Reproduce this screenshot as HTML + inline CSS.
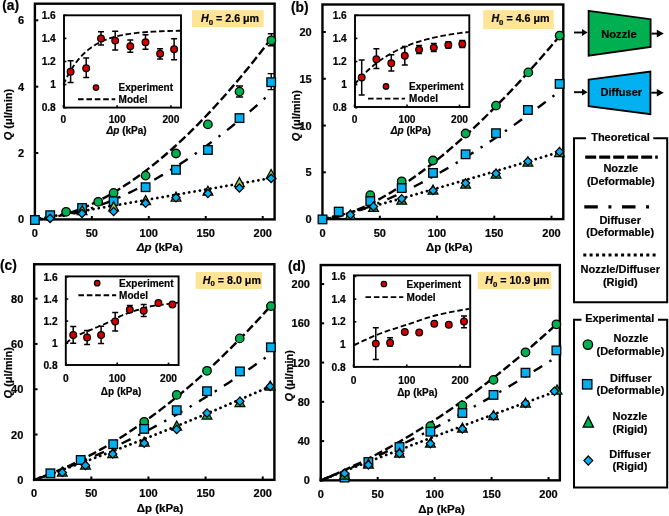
<!DOCTYPE html>
<html><head><meta charset="utf-8"><style>
html,body{margin:0;padding:0;background:#fff;}
svg{display:block;will-change:transform;}
text{font-family:"Liberation Sans", sans-serif;fill:#000;stroke:#000;stroke-width:0.2px;}
</style></head><body>
<svg width="669" height="516" viewBox="0 0 669 516" font-family="Liberation Sans, sans-serif">
<rect x="0" y="0" width="669" height="516" fill="#fff"/>
<rect x="192" y="10.2" width="71.69999999999999" height="16.900000000000002" fill="#ffe495"/>
<text x="201" y="22.3" font-size="10.7" font-weight="bold"><tspan font-style="italic">H</tspan><tspan font-size="7.8" dy="2.3">0</tspan><tspan dy="-2.3"> = 2.6 μm</tspan></text>
<rect x="34.9" y="3.7" width="239.70000000000002" height="215.70000000000002" fill="none" stroke="#000" stroke-width="2.4"/>
<line x1="34.9" y1="219.40" x2="38.30" y2="219.40" stroke="#000" stroke-width="2"/>
<text x="24.10" y="223.35" font-size="11" font-weight="bold" text-anchor="end" >0</text>
<line x1="34.9" y1="153.04" x2="38.30" y2="153.04" stroke="#000" stroke-width="2"/>
<text x="24.10" y="156.99" font-size="11" font-weight="bold" text-anchor="end" >2</text>
<line x1="34.9" y1="86.68" x2="38.30" y2="86.68" stroke="#000" stroke-width="2"/>
<text x="24.10" y="90.63" font-size="11" font-weight="bold" text-anchor="end" >4</text>
<line x1="34.9" y1="20.32" x2="38.30" y2="20.32" stroke="#000" stroke-width="2"/>
<text x="24.10" y="24.27" font-size="11" font-weight="bold" text-anchor="end" >6</text>
<line x1="34.90" y1="219.4" x2="34.90" y2="216.00" stroke="#000" stroke-width="2"/>
<text x="34.90" y="237.30" font-size="11" font-weight="bold" text-anchor="middle" >0</text>
<line x1="91.85" y1="219.4" x2="91.85" y2="216.00" stroke="#000" stroke-width="2"/>
<text x="91.85" y="237.30" font-size="11" font-weight="bold" text-anchor="middle" >50</text>
<line x1="148.80" y1="219.4" x2="148.80" y2="216.00" stroke="#000" stroke-width="2"/>
<text x="148.80" y="237.30" font-size="11" font-weight="bold" text-anchor="middle" >100</text>
<line x1="205.75" y1="219.4" x2="205.75" y2="216.00" stroke="#000" stroke-width="2"/>
<text x="205.75" y="237.30" font-size="11" font-weight="bold" text-anchor="middle" >150</text>
<line x1="262.70" y1="219.4" x2="262.70" y2="216.00" stroke="#000" stroke-width="2"/>
<text x="262.70" y="237.30" font-size="11" font-weight="bold" text-anchor="middle" >200</text>
<path d="M34.90,219.40 L37.85,219.31 L40.79,219.10 L43.74,218.79 L46.69,218.40 L49.64,217.93 L52.58,217.39 L55.53,216.77 L58.48,216.08 L61.42,215.33 L64.37,214.51 L67.32,213.63 L70.27,212.69 L73.21,211.70 L76.16,210.64 L79.11,209.52 L82.05,208.35 L85.00,207.13 L87.95,205.85 L90.90,204.52 L93.84,203.13 L96.79,201.69 L99.74,200.21 L102.68,198.67 L105.63,197.08 L108.58,195.44 L111.53,193.75 L114.47,192.02 L117.42,190.23 L120.37,188.40 L123.31,186.52 L126.26,184.60 L129.21,182.63 L132.16,180.61 L135.10,178.55 L138.05,176.44 L141.00,174.29 L143.95,172.10 L146.89,169.86 L149.84,167.57 L152.79,165.25 L155.73,162.87 L158.68,160.46 L161.63,158.01 L164.58,155.51 L167.52,152.97 L170.47,150.38 L173.42,147.76 L176.36,145.10 L179.31,142.39 L182.26,139.64 L185.21,136.85 L188.15,134.03 L191.10,131.16 L194.05,128.25 L196.99,125.30 L199.94,122.31 L202.89,119.28 L205.84,116.22 L208.78,113.11 L211.73,109.97 L214.68,106.78 L217.62,103.56 L220.57,100.30 L223.52,97.00 L226.47,93.66 L229.41,90.29 L232.36,86.87 L235.31,83.42 L238.25,79.94 L241.20,76.41 L244.15,72.85 L247.10,69.25 L250.04,65.61 L252.99,61.94 L255.94,58.23 L258.88,54.48 L261.83,50.70 L264.78,46.88 L267.73,43.02 L270.67,39.13" fill="none" stroke="#000" stroke-width="2.4" stroke-dasharray="8.5 3.4" stroke-dashoffset="0.00" stroke-linecap="butt"/>
<path d="M34.90,219.40 L37.78,219.33 L40.67,219.17 L43.55,218.94 L46.43,218.65 L49.32,218.31 L52.20,217.91 L55.08,217.47 L57.96,216.97 L60.85,216.43 L63.73,215.85 L66.61,215.23 L69.50,214.56 L72.38,213.86 L75.26,213.11 L78.15,212.33 L81.03,211.51 L83.91,210.65 L86.80,209.76 L89.68,208.83 L92.56,207.87 L95.44,206.88 L98.33,205.84 L101.21,204.78 L104.09,203.68 L106.98,202.55 L109.86,201.39 L112.74,200.20 L115.63,198.97 L118.51,197.72 L121.39,196.43 L124.28,195.12 L127.16,193.77 L130.04,192.39 L132.93,190.99 L135.81,189.55 L138.69,188.09 L141.57,186.59 L144.46,185.07 L147.34,183.52 L150.22,181.95 L153.11,180.34 L155.99,178.71 L158.87,177.05 L161.76,175.36 L164.64,173.64 L167.52,171.90 L170.41,170.13 L173.29,168.34 L176.17,166.52 L179.05,164.67 L181.94,162.79 L184.82,160.89 L187.70,158.97 L190.59,157.02 L193.47,155.04 L196.35,153.04 L199.24,151.01 L202.12,148.96 L205.00,146.88 L207.89,144.78 L210.77,142.65 L213.65,140.50 L216.53,138.33 L219.42,136.13 L222.30,133.90 L225.18,131.65 L228.07,129.38 L230.95,127.09 L233.83,124.77 L236.72,122.42 L239.60,120.06 L242.48,117.67 L245.37,115.25 L248.25,112.82 L251.13,110.36 L254.02,107.87 L256.90,105.37 L259.78,102.84 L262.66,100.29 L265.55,97.71" fill="none" stroke="#000" stroke-width="2.4" stroke-dasharray="10 8.5 2.4 8.5" stroke-dashoffset="20.06" stroke-linecap="butt"/>
<path d="M34.90,219.40 L37.85,218.88 L40.79,218.37 L43.74,217.85 L46.69,217.34 L49.64,216.82 L52.58,216.31 L55.53,215.79 L58.48,215.28 L61.42,214.76 L64.37,214.25 L67.32,213.73 L70.27,213.22 L73.21,212.70 L76.16,212.19 L79.11,211.67 L82.05,211.16 L85.00,210.64 L87.95,210.13 L90.90,209.61 L93.84,209.10 L96.79,208.58 L99.74,208.07 L102.68,207.55 L105.63,207.04 L108.58,206.52 L111.53,206.01 L114.47,205.49 L117.42,204.98 L120.37,204.46 L123.31,203.95 L126.26,203.43 L129.21,202.92 L132.16,202.40 L135.10,201.89 L138.05,201.37 L141.00,200.86 L143.95,200.34 L146.89,199.83 L149.84,199.31 L152.79,198.80 L155.73,198.28 L158.68,197.76 L161.63,197.25 L164.58,196.73 L167.52,196.22 L170.47,195.70 L173.42,195.19 L176.36,194.67 L179.31,194.16 L182.26,193.64 L185.21,193.13 L188.15,192.61 L191.10,192.10 L194.05,191.58 L196.99,191.07 L199.94,190.55 L202.89,190.04 L205.84,189.52 L208.78,189.01 L211.73,188.49 L214.68,187.98 L217.62,187.46 L220.57,186.95 L223.52,186.43 L226.47,185.92 L229.41,185.40 L232.36,184.89 L235.31,184.37 L238.25,183.86 L241.20,183.34 L244.15,182.83 L247.10,182.31 L250.04,181.80 L252.99,181.28 L255.94,180.77 L258.88,180.25 L261.83,179.74 L264.78,179.22 L267.73,178.71 L270.67,178.19" fill="none" stroke="#000" stroke-width="2.75" stroke-dasharray="0.1 5.3" stroke-dashoffset="0.00" stroke-linecap="round"/>
<path d="M239.50,86.00 L239.50,97.00 M235.90,86.00 L243.10,86.00 M235.90,97.00 L243.10,97.00" stroke="#000" stroke-width="1.4" fill="none"/>
<path d="M271.40,33.80 L271.40,45.80 M267.80,33.80 L275.00,33.80 M267.80,45.80 L275.00,45.80" stroke="#000" stroke-width="1.4" fill="none"/>
<path d="M271.20,73.60 L271.20,89.60 M267.60,73.60 L274.80,73.60 M267.60,89.60 L274.80,89.60" stroke="#000" stroke-width="1.4" fill="none"/>
<circle cx="66.10" cy="211.80" r="4.25" fill="#00b050" stroke="#000" stroke-width="1.3"/>
<circle cx="98.20" cy="201.80" r="4.25" fill="#00b050" stroke="#000" stroke-width="1.3"/>
<circle cx="113.60" cy="192.90" r="4.25" fill="#00b050" stroke="#000" stroke-width="1.3"/>
<circle cx="145.60" cy="175.60" r="4.25" fill="#00b050" stroke="#000" stroke-width="1.3"/>
<circle cx="176.00" cy="153.50" r="4.25" fill="#00b050" stroke="#000" stroke-width="1.3"/>
<circle cx="207.90" cy="124.40" r="4.25" fill="#00b050" stroke="#000" stroke-width="1.3"/>
<circle cx="239.50" cy="91.60" r="4.25" fill="#00b050" stroke="#000" stroke-width="1.3"/>
<circle cx="271.40" cy="40.30" r="4.25" fill="#00b050" stroke="#000" stroke-width="1.3"/>
<rect x="30.60" y="215.70" width="8.6" height="8.6" fill="#00b0f0" stroke="#000" stroke-width="1.3"/>
<rect x="45.90" y="210.90" width="8.6" height="8.6" fill="#00b0f0" stroke="#000" stroke-width="1.3"/>
<rect x="77.80" y="203.70" width="8.6" height="8.6" fill="#00b0f0" stroke="#000" stroke-width="1.3"/>
<rect x="109.30" y="196.90" width="8.6" height="8.6" fill="#00b0f0" stroke="#000" stroke-width="1.3"/>
<rect x="141.30" y="182.90" width="8.6" height="8.6" fill="#00b0f0" stroke="#000" stroke-width="1.3"/>
<rect x="171.70" y="165.50" width="8.6" height="8.6" fill="#00b0f0" stroke="#000" stroke-width="1.3"/>
<rect x="203.60" y="145.70" width="8.6" height="8.6" fill="#00b0f0" stroke="#000" stroke-width="1.3"/>
<rect x="235.20" y="113.80" width="8.6" height="8.6" fill="#00b0f0" stroke="#000" stroke-width="1.3"/>
<rect x="266.90" y="77.90" width="8.6" height="8.6" fill="#00b0f0" stroke="#000" stroke-width="1.3"/>
<path d="M82.10,205.60 L87.00,214.60 L77.20,214.60 Z" fill="#92d050" stroke="#000" stroke-width="1.25" stroke-linejoin="miter"/>
<path d="M113.60,201.90 L118.50,210.90 L108.70,210.90 Z" fill="#92d050" stroke="#000" stroke-width="1.25" stroke-linejoin="miter"/>
<path d="M145.60,195.60 L150.50,204.60 L140.70,204.60 Z" fill="#92d050" stroke="#000" stroke-width="1.25" stroke-linejoin="miter"/>
<path d="M176.00,192.00 L180.90,201.00 L171.10,201.00 Z" fill="#92d050" stroke="#000" stroke-width="1.25" stroke-linejoin="miter"/>
<path d="M207.90,186.20 L212.80,195.20 L203.00,195.20 Z" fill="#92d050" stroke="#000" stroke-width="1.25" stroke-linejoin="miter"/>
<path d="M239.40,177.60 L244.30,186.60 L234.50,186.60 Z" fill="#92d050" stroke="#000" stroke-width="1.25" stroke-linejoin="miter"/>
<path d="M271.10,169.50 L276.00,178.50 L266.20,178.50 Z" fill="#92d050" stroke="#000" stroke-width="1.25" stroke-linejoin="miter"/>
<path d="M50.10,214.25 L54.25,218.40 L50.10,222.55 L45.95,218.40 Z" fill="#00b0f0" stroke="#000" stroke-width="1.25"/>
<path d="M82.00,209.35 L86.15,213.50 L82.00,217.65 L77.85,213.50 Z" fill="#00b0f0" stroke="#000" stroke-width="1.25"/>
<path d="M113.60,207.35 L117.75,211.50 L113.60,215.65 L109.45,211.50 Z" fill="#00b0f0" stroke="#000" stroke-width="1.25"/>
<path d="M145.60,199.05 L149.75,203.20 L145.60,207.35 L141.45,203.20 Z" fill="#00b0f0" stroke="#000" stroke-width="1.25"/>
<path d="M176.00,193.55 L180.15,197.70 L176.00,201.85 L171.85,197.70 Z" fill="#00b0f0" stroke="#000" stroke-width="1.25"/>
<path d="M207.90,189.35 L212.05,193.50 L207.90,197.65 L203.75,193.50 Z" fill="#00b0f0" stroke="#000" stroke-width="1.25"/>
<path d="M239.40,183.85 L243.55,188.00 L239.40,192.15 L235.25,188.00 Z" fill="#00b0f0" stroke="#000" stroke-width="1.25"/>
<path d="M271.10,174.25 L275.25,178.40 L271.10,182.55 L266.95,178.40 Z" fill="#00b0f0" stroke="#000" stroke-width="1.25"/>
<text x="159.75" y="251.1" font-size="11.5" font-weight="bold" text-anchor="middle"><tspan font-style="italic">Δp</tspan> (kPa)</text>
<text transform="translate(12.1,114.6) rotate(-90)" x="0" y="0" font-size="11" font-weight="bold" text-anchor="middle"><tspan font-style="italic">Q</tspan> (μl/min)</text>
<text x="2.20" y="10.00" font-size="13.8" font-weight="bold" text-anchor="start" >(a)</text>
<rect x="64" y="15.3" width="117" height="92.3" fill="#fff"/>
<path d="M63.40,84.60 L64.87,81.40 L66.34,78.38 L67.81,75.54 L69.29,72.87 L70.76,70.36 L72.23,68.00 L73.70,65.78 L75.17,63.68 L76.64,61.71 L78.11,59.86 L79.59,58.12 L81.06,56.48 L82.53,54.93 L84.00,53.48 L85.47,52.11 L86.94,50.83 L88.41,49.61 L89.89,48.48 L91.36,47.40 L92.83,46.40 L94.30,45.45 L95.77,44.55 L97.24,43.71 L98.71,42.92 L100.19,42.18 L101.66,41.48 L103.13,40.82 L104.60,40.20 L106.07,39.62 L107.54,39.07 L109.01,38.55 L110.48,38.06 L111.96,37.61 L113.43,37.18 L114.90,36.77 L116.37,36.39 L117.84,36.03 L119.31,35.69 L120.78,35.38 L122.26,35.08 L123.73,34.80 L125.20,34.53 L126.67,34.28 L128.14,34.05 L129.61,33.83 L131.08,33.62 L132.56,33.43 L134.03,33.24 L135.50,33.07 L136.97,32.91 L138.44,32.75 L139.91,32.61 L141.38,32.47 L142.86,32.35 L144.33,32.23 L145.80,32.11 L147.27,32.01 L148.74,31.91 L150.21,31.81 L151.68,31.73 L153.16,31.64 L154.63,31.56 L156.10,31.49 L157.57,31.42 L159.04,31.36 L160.51,31.29 L161.98,31.24 L163.46,31.18 L164.93,31.13 L166.40,31.08 L167.87,31.04 L169.34,30.99 L170.81,30.95 L172.28,30.92 L173.76,30.88 L175.23,30.85 L176.70,30.82 L178.17,30.79 L179.64,30.76 L181.11,30.73" fill="none" stroke="#000" stroke-width="1.85" stroke-dasharray="5.6 2.8"/>
<path d="M70.60,60.80 L70.60,82.40 M67.60,60.80 L73.60,60.80 M67.60,82.40 L73.60,82.40" stroke="#000" stroke-width="1.5" fill="none"/>
<circle cx="70.60" cy="71.70" r="3.35" fill="#d40000" stroke="#000" stroke-width="1.25"/>
<path d="M86.20,58.00 L86.20,77.60 M83.20,58.00 L89.20,58.00 M83.20,77.60 L89.20,77.60" stroke="#000" stroke-width="1.5" fill="none"/>
<circle cx="86.20" cy="68.30" r="3.35" fill="#d40000" stroke="#000" stroke-width="1.25"/>
<path d="M101.00,31.70 L101.00,45.00 M98.00,31.70 L104.00,31.70 M98.00,45.00 L104.00,45.00" stroke="#000" stroke-width="1.5" fill="none"/>
<circle cx="101.00" cy="38.50" r="3.35" fill="#d40000" stroke="#000" stroke-width="1.25"/>
<path d="M115.20,31.30 L115.20,49.90 M112.20,31.30 L118.20,31.30 M112.20,49.90 L118.20,49.90" stroke="#000" stroke-width="1.5" fill="none"/>
<circle cx="115.20" cy="40.60" r="3.35" fill="#d40000" stroke="#000" stroke-width="1.25"/>
<path d="M130.30,39.90 L130.30,52.20 M127.30,39.90 L133.30,39.90 M127.30,52.20 L133.30,52.20" stroke="#000" stroke-width="1.5" fill="none"/>
<circle cx="130.30" cy="46.20" r="3.35" fill="#d40000" stroke="#000" stroke-width="1.25"/>
<path d="M145.50,34.80 L145.50,49.20 M142.50,34.80 L148.50,34.80 M142.50,49.20 L148.50,49.20" stroke="#000" stroke-width="1.5" fill="none"/>
<circle cx="145.50" cy="42.20" r="3.35" fill="#d40000" stroke="#000" stroke-width="1.25"/>
<path d="M160.10,48.70 L160.10,59.00 M157.10,48.70 L163.10,48.70 M157.10,59.00 L163.10,59.00" stroke="#000" stroke-width="1.5" fill="none"/>
<circle cx="160.10" cy="53.80" r="3.35" fill="#d40000" stroke="#000" stroke-width="1.25"/>
<path d="M174.10,38.70 L174.10,59.70 M171.10,38.70 L177.10,38.70 M171.10,59.70 L177.10,59.70" stroke="#000" stroke-width="1.5" fill="none"/>
<circle cx="174.10" cy="49.20" r="3.35" fill="#d40000" stroke="#000" stroke-width="1.25"/>
<rect x="64" y="15.3" width="117" height="92.3" fill="none" stroke="#000" stroke-width="1.9"/>
<line x1="64" y1="107.70" x2="66.40" y2="107.70" stroke="#000" stroke-width="1.6"/>
<text x="55.80" y="111.35" font-size="10.2" font-weight="bold" text-anchor="end" >0.8</text>
<line x1="64" y1="84.60" x2="66.40" y2="84.60" stroke="#000" stroke-width="1.6"/>
<text x="55.80" y="88.25" font-size="10.2" font-weight="bold" text-anchor="end" >1</text>
<line x1="64" y1="61.50" x2="66.40" y2="61.50" stroke="#000" stroke-width="1.6"/>
<text x="55.80" y="65.15" font-size="10.2" font-weight="bold" text-anchor="end" >1.2</text>
<line x1="64" y1="38.40" x2="66.40" y2="38.40" stroke="#000" stroke-width="1.6"/>
<text x="55.80" y="42.05" font-size="10.2" font-weight="bold" text-anchor="end" >1.4</text>
<line x1="64" y1="15.30" x2="66.40" y2="15.30" stroke="#000" stroke-width="1.6"/>
<text x="55.80" y="18.95" font-size="10.2" font-weight="bold" text-anchor="end" >1.6</text>
<line x1="63.40" y1="107.6" x2="63.40" y2="105.20" stroke="#000" stroke-width="1.6"/>
<text x="63.40" y="122.60" font-size="10.2" font-weight="bold" text-anchor="middle" >0</text>
<line x1="117.15" y1="107.6" x2="117.15" y2="105.20" stroke="#000" stroke-width="1.6"/>
<text x="117.15" y="122.60" font-size="10.2" font-weight="bold" text-anchor="middle" >100</text>
<line x1="170.90" y1="107.6" x2="170.90" y2="105.20" stroke="#000" stroke-width="1.6"/>
<text x="170.90" y="122.60" font-size="10.2" font-weight="bold" text-anchor="middle" >200</text>
<text x="126.6" y="133.9" font-size="10" font-weight="bold" text-anchor="middle"><tspan font-style="italic">Δp</tspan> (kPa)</text>
<circle cx="96.00" cy="87.60" r="2.75" fill="#d40000" stroke="#000" stroke-width="1.2"/>
<text x="118.60" y="91.20" font-size="10" font-weight="bold" text-anchor="start" >Experiment</text>
<line x1="78" y1="99.2" x2="115.2" y2="99.2" stroke="#000" stroke-width="1.85" stroke-dasharray="5.6 2.8"/>
<text x="118.60" y="102.80" font-size="10" font-weight="bold" text-anchor="start" >Model</text>
<rect x="483.2" y="10.2" width="70.50000000000006" height="18.900000000000002" fill="#ffe495"/>
<text x="491.4" y="22.4" font-size="10.7" font-weight="bold"><tspan font-style="italic">H</tspan><tspan font-size="7.8" dy="2.3">0</tspan><tspan dy="-2.3"> = 4.6 μm</tspan></text>
<rect x="322.45" y="4.5" width="240.84999999999997" height="214.6" fill="none" stroke="#000" stroke-width="2.4"/>
<line x1="322.45" y1="219.10" x2="325.85" y2="219.10" stroke="#000" stroke-width="2"/>
<text x="311.65" y="223.05" font-size="11" font-weight="bold" text-anchor="end" >0</text>
<line x1="322.45" y1="172.32" x2="325.85" y2="172.32" stroke="#000" stroke-width="2"/>
<text x="311.65" y="176.27" font-size="11" font-weight="bold" text-anchor="end" >5</text>
<line x1="322.45" y1="125.55" x2="325.85" y2="125.55" stroke="#000" stroke-width="2"/>
<text x="311.65" y="129.50" font-size="11" font-weight="bold" text-anchor="end" >10</text>
<line x1="322.45" y1="78.77" x2="325.85" y2="78.77" stroke="#000" stroke-width="2"/>
<text x="311.65" y="82.72" font-size="11" font-weight="bold" text-anchor="end" >15</text>
<line x1="322.45" y1="32.00" x2="325.85" y2="32.00" stroke="#000" stroke-width="2"/>
<text x="311.65" y="35.95" font-size="11" font-weight="bold" text-anchor="end" >20</text>
<line x1="322.60" y1="219.1" x2="322.60" y2="215.70" stroke="#000" stroke-width="2"/>
<text x="322.60" y="236.70" font-size="11" font-weight="bold" text-anchor="middle" >0</text>
<line x1="379.83" y1="219.1" x2="379.83" y2="215.70" stroke="#000" stroke-width="2"/>
<text x="379.83" y="236.70" font-size="11" font-weight="bold" text-anchor="middle" >50</text>
<line x1="437.05" y1="219.1" x2="437.05" y2="215.70" stroke="#000" stroke-width="2"/>
<text x="437.05" y="236.70" font-size="11" font-weight="bold" text-anchor="middle" >100</text>
<line x1="494.28" y1="219.1" x2="494.28" y2="215.70" stroke="#000" stroke-width="2"/>
<text x="494.28" y="236.70" font-size="11" font-weight="bold" text-anchor="middle" >150</text>
<line x1="551.50" y1="219.1" x2="551.50" y2="215.70" stroke="#000" stroke-width="2"/>
<text x="551.50" y="236.70" font-size="11" font-weight="bold" text-anchor="middle" >200</text>
<path d="M322.60,219.10 L325.56,218.89 L328.52,218.50 L331.48,217.97 L334.45,217.34 L337.41,216.61 L340.37,215.80 L343.33,214.91 L346.29,213.94 L349.25,212.91 L352.21,211.81 L355.18,210.65 L358.14,209.43 L361.10,208.16 L364.06,206.82 L367.02,205.44 L369.98,204.00 L372.94,202.51 L375.91,200.98 L378.87,199.39 L381.83,197.76 L384.79,196.08 L387.75,194.36 L390.71,192.60 L393.67,190.79 L396.63,188.94 L399.60,187.05 L402.56,185.12 L405.52,183.15 L408.48,181.14 L411.44,179.09 L414.40,177.01 L417.36,174.89 L420.33,172.73 L423.29,170.53 L426.25,168.30 L429.21,166.03 L432.17,163.73 L435.13,161.39 L438.09,159.02 L441.06,156.62 L444.02,154.18 L446.98,151.71 L449.94,149.20 L452.90,146.67 L455.86,144.10 L458.82,141.50 L461.79,138.87 L464.75,136.21 L467.71,133.52 L470.67,130.80 L473.63,128.04 L476.59,125.26 L479.55,122.45 L482.52,119.61 L485.48,116.74 L488.44,113.84 L491.40,110.91 L494.36,107.96 L497.32,104.97 L500.28,101.96 L503.25,98.92 L506.21,95.85 L509.17,92.76 L512.13,89.63 L515.09,86.49 L518.05,83.31 L521.01,80.11 L523.97,76.88 L526.94,73.62 L529.90,70.34 L532.86,67.04 L535.82,63.70 L538.78,60.35 L541.74,56.96 L544.70,53.55 L547.67,50.12 L550.63,46.66 L553.59,43.18 L556.55,39.67 L559.51,36.14" fill="none" stroke="#000" stroke-width="2.4" stroke-dasharray="8.5 3.4" stroke-dashoffset="0.00" stroke-linecap="butt"/>
<path d="M322.60,219.10 L325.50,218.87 L328.39,218.49 L331.29,218.00 L334.19,217.44 L337.09,216.81 L339.98,216.13 L342.88,215.39 L345.78,214.60 L348.67,213.77 L351.57,212.90 L354.47,211.99 L357.36,211.04 L360.26,210.05 L363.16,209.03 L366.06,207.98 L368.95,206.90 L371.85,205.78 L374.75,204.64 L377.64,203.47 L380.54,202.27 L383.44,201.05 L386.33,199.80 L389.23,198.52 L392.13,197.22 L395.03,195.89 L397.92,194.55 L400.82,193.17 L403.72,191.78 L406.61,190.36 L409.51,188.93 L412.41,187.47 L415.30,185.99 L418.20,184.49 L421.10,182.97 L424.00,181.43 L426.89,179.87 L429.79,178.29 L432.69,176.69 L435.58,175.08 L438.48,173.44 L441.38,171.79 L444.27,170.12 L447.17,168.43 L450.07,166.72 L452.97,165.00 L455.86,163.26 L458.76,161.51 L461.66,159.73 L464.55,157.94 L467.45,156.14 L470.35,154.32 L473.24,152.48 L476.14,150.63 L479.04,148.76 L481.94,146.88 L484.83,144.98 L487.73,143.06 L490.63,141.14 L493.52,139.19 L496.42,137.23 L499.32,135.26 L502.21,133.28 L505.11,131.28 L508.01,129.26 L510.91,127.23 L513.80,125.19 L516.70,123.14 L519.60,121.07 L522.49,118.98 L525.39,116.89 L528.29,114.78 L531.19,112.66 L534.08,110.52 L536.98,108.37 L539.88,106.21 L542.77,104.04 L545.67,101.85 L548.57,99.65 L551.46,97.44 L554.36,95.22" fill="none" stroke="#000" stroke-width="2.4" stroke-dasharray="10 8.5 2.4 8.5" stroke-dashoffset="20.26" stroke-linecap="butt"/>
<path d="M322.60,219.10 L325.56,218.48 L328.52,217.80 L331.48,217.10 L334.45,216.38 L337.41,215.64 L340.37,214.90 L343.33,214.15 L346.29,213.39 L349.25,212.62 L352.21,211.84 L355.18,211.07 L358.14,210.28 L361.10,209.49 L364.06,208.70 L367.02,207.90 L369.98,207.10 L372.94,206.30 L375.91,205.49 L378.87,204.68 L381.83,203.87 L384.79,203.05 L387.75,202.23 L390.71,201.41 L393.67,200.59 L396.63,199.76 L399.60,198.93 L402.56,198.10 L405.52,197.27 L408.48,196.43 L411.44,195.59 L414.40,194.75 L417.36,193.91 L420.33,193.07 L423.29,192.22 L426.25,191.38 L429.21,190.53 L432.17,189.68 L435.13,188.83 L438.09,187.97 L441.06,187.12 L444.02,186.26 L446.98,185.41 L449.94,184.55 L452.90,183.69 L455.86,182.82 L458.82,181.96 L461.79,181.10 L464.75,180.23 L467.71,179.36 L470.67,178.50 L473.63,177.63 L476.59,176.76 L479.55,175.88 L482.52,175.01 L485.48,174.14 L488.44,173.26 L491.40,172.38 L494.36,171.51 L497.32,170.63 L500.28,169.75 L503.25,168.87 L506.21,167.99 L509.17,167.10 L512.13,166.22 L515.09,165.34 L518.05,164.45 L521.01,163.56 L523.97,162.68 L526.94,161.79 L529.90,160.90 L532.86,160.01 L535.82,159.12 L538.78,158.23 L541.74,157.33 L544.70,156.44 L547.67,155.55 L550.63,154.65 L553.59,153.75 L556.55,152.86 L559.51,151.96" fill="none" stroke="#000" stroke-width="2.75" stroke-dasharray="0.1 5.3" stroke-dashoffset="0.00" stroke-linecap="round"/>
<circle cx="370.30" cy="195.20" r="4.25" fill="#00b050" stroke="#000" stroke-width="1.3"/>
<circle cx="401.70" cy="181.30" r="4.25" fill="#00b050" stroke="#000" stroke-width="1.3"/>
<circle cx="433.00" cy="160.50" r="4.25" fill="#00b050" stroke="#000" stroke-width="1.3"/>
<circle cx="465.60" cy="133.50" r="4.25" fill="#00b050" stroke="#000" stroke-width="1.3"/>
<circle cx="496.00" cy="105.60" r="4.25" fill="#00b050" stroke="#000" stroke-width="1.3"/>
<circle cx="528.30" cy="72.40" r="4.25" fill="#00b050" stroke="#000" stroke-width="1.3"/>
<circle cx="559.60" cy="35.60" r="4.25" fill="#00b050" stroke="#000" stroke-width="1.3"/>
<rect x="318.20" y="215.10" width="8.6" height="8.6" fill="#00b0f0" stroke="#000" stroke-width="1.3"/>
<rect x="334.40" y="207.30" width="8.6" height="8.6" fill="#00b0f0" stroke="#000" stroke-width="1.3"/>
<rect x="366.00" y="196.80" width="8.6" height="8.6" fill="#00b0f0" stroke="#000" stroke-width="1.3"/>
<rect x="397.40" y="183.80" width="8.6" height="8.6" fill="#00b0f0" stroke="#000" stroke-width="1.3"/>
<rect x="428.70" y="168.60" width="8.6" height="8.6" fill="#00b0f0" stroke="#000" stroke-width="1.3"/>
<rect x="461.30" y="150.00" width="8.6" height="8.6" fill="#00b0f0" stroke="#000" stroke-width="1.3"/>
<rect x="491.70" y="128.90" width="8.6" height="8.6" fill="#00b0f0" stroke="#000" stroke-width="1.3"/>
<rect x="523.60" y="105.70" width="8.6" height="8.6" fill="#00b0f0" stroke="#000" stroke-width="1.3"/>
<rect x="555.30" y="79.60" width="8.6" height="8.6" fill="#00b0f0" stroke="#000" stroke-width="1.3"/>
<path d="M350.40,210.00 L355.30,219.00 L345.50,219.00 Z" fill="#00b050" stroke="#000" stroke-width="1.25" stroke-linejoin="miter"/>
<path d="M373.50,202.40 L378.40,211.40 L368.60,211.40 Z" fill="#00b050" stroke="#000" stroke-width="1.25" stroke-linejoin="miter"/>
<path d="M401.70,195.20 L406.60,204.20 L396.80,204.20 Z" fill="#00b050" stroke="#000" stroke-width="1.25" stroke-linejoin="miter"/>
<path d="M433.00,185.00 L437.90,194.00 L428.10,194.00 Z" fill="#00b050" stroke="#000" stroke-width="1.25" stroke-linejoin="miter"/>
<path d="M465.60,179.00 L470.50,188.00 L460.70,188.00 Z" fill="#00b050" stroke="#000" stroke-width="1.25" stroke-linejoin="miter"/>
<path d="M496.00,169.00 L500.90,178.00 L491.10,178.00 Z" fill="#00b050" stroke="#000" stroke-width="1.25" stroke-linejoin="miter"/>
<path d="M527.90,157.00 L532.80,166.00 L523.00,166.00 Z" fill="#00b050" stroke="#000" stroke-width="1.25" stroke-linejoin="miter"/>
<path d="M559.50,147.50 L564.40,156.50 L554.60,156.50 Z" fill="#00b050" stroke="#000" stroke-width="1.25" stroke-linejoin="miter"/>
<path d="M350.40,210.55 L354.55,214.70 L350.40,218.85 L346.25,214.70 Z" fill="#00b0f0" stroke="#000" stroke-width="1.25"/>
<path d="M373.50,202.35 L377.65,206.50 L373.50,210.65 L369.35,206.50 Z" fill="#00b0f0" stroke="#000" stroke-width="1.25"/>
<path d="M401.70,194.65 L405.85,198.80 L401.70,202.95 L397.55,198.80 Z" fill="#00b0f0" stroke="#000" stroke-width="1.25"/>
<path d="M433.00,186.35 L437.15,190.50 L433.00,194.65 L428.85,190.50 Z" fill="#00b0f0" stroke="#000" stroke-width="1.25"/>
<path d="M465.60,178.95 L469.75,183.10 L465.60,187.25 L461.45,183.10 Z" fill="#00b0f0" stroke="#000" stroke-width="1.25"/>
<path d="M496.00,169.35 L500.15,173.50 L496.00,177.65 L491.85,173.50 Z" fill="#00b0f0" stroke="#000" stroke-width="1.25"/>
<path d="M527.90,157.25 L532.05,161.40 L527.90,165.55 L523.75,161.40 Z" fill="#00b0f0" stroke="#000" stroke-width="1.25"/>
<path d="M559.50,147.65 L563.65,151.80 L559.50,155.95 L555.35,151.80 Z" fill="#00b0f0" stroke="#000" stroke-width="1.25"/>
<text x="449.2" y="250.7" font-size="11.5" font-weight="bold" text-anchor="middle">Δp (kPa)</text>
<text transform="translate(300.1,115.7) rotate(-90)" x="0" y="0" font-size="11" font-weight="bold" text-anchor="middle"><tspan font-style="italic">Q</tspan> (μl/min)</text>
<text x="290.90" y="11.90" font-size="13.8" font-weight="bold" text-anchor="start" >(b)</text>
<rect x="355" y="15.3" width="114.30000000000001" height="91.7" fill="#fff"/>
<path d="M354.50,84.60 L355.94,82.87 L357.37,81.19 L358.81,79.56 L360.25,77.98 L361.69,76.45 L363.12,74.97 L364.56,73.52 L366.00,72.13 L367.43,70.77 L368.87,69.45 L370.31,68.18 L371.75,66.94 L373.18,65.74 L374.62,64.57 L376.06,63.44 L377.50,62.35 L378.93,61.28 L380.37,60.25 L381.81,59.25 L383.24,58.28 L384.68,57.34 L386.12,56.43 L387.56,55.54 L388.99,54.68 L390.43,53.85 L391.87,53.04 L393.30,52.25 L394.74,51.49 L396.18,50.75 L397.62,50.04 L399.05,49.34 L400.49,48.67 L401.93,48.02 L403.36,47.38 L404.80,46.77 L406.24,46.17 L407.68,45.59 L409.11,45.03 L410.55,44.48 L411.99,43.96 L413.42,43.44 L414.86,42.95 L416.30,42.46 L417.74,42.00 L419.17,41.54 L420.61,41.10 L422.05,40.68 L423.49,40.26 L424.92,39.86 L426.36,39.47 L427.80,39.09 L429.23,38.73 L430.67,38.37 L432.11,38.02 L433.55,37.69 L434.98,37.36 L436.42,37.05 L437.86,36.74 L439.29,36.45 L440.73,36.16 L442.17,35.88 L443.61,35.61 L445.04,35.35 L446.48,35.09 L447.92,34.85 L449.35,34.61 L450.79,34.37 L452.23,34.15 L453.67,33.93 L455.10,33.72 L456.54,33.51 L457.98,33.31 L459.41,33.12 L460.85,32.93 L462.29,32.75 L463.73,32.57 L465.16,32.40 L466.60,32.24 L468.04,32.07 L469.48,31.92" fill="none" stroke="#000" stroke-width="1.85" stroke-dasharray="5.6 2.8"/>
<path d="M361.70,60.00 L361.70,94.90 M358.70,60.00 L364.70,60.00 M358.70,94.90 L364.70,94.90" stroke="#000" stroke-width="1.5" fill="none"/>
<circle cx="361.70" cy="77.40" r="3.35" fill="#d40000" stroke="#000" stroke-width="1.25"/>
<path d="M376.40,48.80 L376.40,68.60 M373.40,48.80 L379.40,48.80 M373.40,68.60 L379.40,68.60" stroke="#000" stroke-width="1.5" fill="none"/>
<circle cx="376.40" cy="59.30" r="3.35" fill="#d40000" stroke="#000" stroke-width="1.25"/>
<path d="M391.30,54.70 L391.30,70.90 M388.30,54.70 L394.30,54.70 M388.30,70.90 L394.30,70.90" stroke="#000" stroke-width="1.5" fill="none"/>
<circle cx="391.30" cy="63.30" r="3.35" fill="#d40000" stroke="#000" stroke-width="1.25"/>
<path d="M404.80,46.50 L404.80,65.10 M401.80,46.50 L407.80,46.50 M401.80,65.10 L407.80,65.10" stroke="#000" stroke-width="1.5" fill="none"/>
<circle cx="404.80" cy="55.80" r="3.35" fill="#d40000" stroke="#000" stroke-width="1.25"/>
<path d="M419.10,45.50 L419.10,53.50 M416.10,45.50 L422.10,45.50 M416.10,53.50 L422.10,53.50" stroke="#000" stroke-width="1.5" fill="none"/>
<circle cx="419.10" cy="49.60" r="3.35" fill="#d40000" stroke="#000" stroke-width="1.25"/>
<path d="M433.80,43.50 L433.80,51.50 M430.80,43.50 L436.80,43.50 M430.80,51.50 L436.80,51.50" stroke="#000" stroke-width="1.5" fill="none"/>
<circle cx="433.80" cy="47.60" r="3.35" fill="#d40000" stroke="#000" stroke-width="1.25"/>
<path d="M448.30,42.00 L448.30,48.00 M445.30,42.00 L451.30,42.00 M445.30,48.00 L451.30,48.00" stroke="#000" stroke-width="1.5" fill="none"/>
<circle cx="448.30" cy="45.00" r="3.35" fill="#d40000" stroke="#000" stroke-width="1.25"/>
<path d="M462.30,40.50 L462.30,47.50 M459.30,40.50 L465.30,40.50 M459.30,47.50 L465.30,47.50" stroke="#000" stroke-width="1.5" fill="none"/>
<circle cx="462.30" cy="44.00" r="3.35" fill="#d40000" stroke="#000" stroke-width="1.25"/>
<rect x="355" y="15.3" width="114.30000000000001" height="91.7" fill="none" stroke="#000" stroke-width="1.9"/>
<line x1="355" y1="107.70" x2="357.40" y2="107.70" stroke="#000" stroke-width="1.6"/>
<text x="346.80" y="111.35" font-size="10.2" font-weight="bold" text-anchor="end" >0.8</text>
<line x1="355" y1="84.60" x2="357.40" y2="84.60" stroke="#000" stroke-width="1.6"/>
<text x="346.80" y="88.25" font-size="10.2" font-weight="bold" text-anchor="end" >1</text>
<line x1="355" y1="61.50" x2="357.40" y2="61.50" stroke="#000" stroke-width="1.6"/>
<text x="346.80" y="65.15" font-size="10.2" font-weight="bold" text-anchor="end" >1.2</text>
<line x1="355" y1="38.40" x2="357.40" y2="38.40" stroke="#000" stroke-width="1.6"/>
<text x="346.80" y="42.05" font-size="10.2" font-weight="bold" text-anchor="end" >1.4</text>
<line x1="355" y1="15.30" x2="357.40" y2="15.30" stroke="#000" stroke-width="1.6"/>
<text x="346.80" y="18.95" font-size="10.2" font-weight="bold" text-anchor="end" >1.6</text>
<line x1="354.50" y1="107" x2="354.50" y2="104.60" stroke="#000" stroke-width="1.6"/>
<text x="354.50" y="122.60" font-size="10.2" font-weight="bold" text-anchor="middle" >0</text>
<line x1="407.00" y1="107" x2="407.00" y2="104.60" stroke="#000" stroke-width="1.6"/>
<text x="407.00" y="122.60" font-size="10.2" font-weight="bold" text-anchor="middle" >100</text>
<line x1="459.50" y1="107" x2="459.50" y2="104.60" stroke="#000" stroke-width="1.6"/>
<text x="459.50" y="122.60" font-size="10.2" font-weight="bold" text-anchor="middle" >200</text>
<text x="410.9" y="134.4" font-size="10" font-weight="bold" text-anchor="middle"><tspan font-style="italic">Δp</tspan> (kPa)</text>
<circle cx="386.00" cy="86.40" r="2.75" fill="#d40000" stroke="#000" stroke-width="1.2"/>
<text x="409.10" y="90.00" font-size="10" font-weight="bold" text-anchor="start" >Experiment</text>
<line x1="368" y1="98.6" x2="405" y2="98.6" stroke="#000" stroke-width="1.85" stroke-dasharray="5.6 2.8"/>
<text x="409.10" y="102.20" font-size="10" font-weight="bold" text-anchor="start" >Model</text>
<rect x="195.7" y="272" width="66.30000000000001" height="17" fill="#ffe495"/>
<text x="202.8" y="283.9" font-size="10.7" font-weight="bold"><tspan font-style="italic">H</tspan><tspan font-size="7.8" dy="2.3">0</tspan><tspan dy="-2.3"> = 8.0 μm</tspan></text>
<rect x="34.15" y="264.25" width="240.24999999999997" height="215.60000000000002" fill="none" stroke="#000" stroke-width="2.4"/>
<line x1="34.15" y1="479.85" x2="37.55" y2="479.85" stroke="#000" stroke-width="2"/>
<text x="23.35" y="483.80" font-size="11" font-weight="bold" text-anchor="end" >0</text>
<line x1="34.15" y1="434.55" x2="37.55" y2="434.55" stroke="#000" stroke-width="2"/>
<text x="23.35" y="438.50" font-size="11" font-weight="bold" text-anchor="end" >20</text>
<line x1="34.15" y1="389.25" x2="37.55" y2="389.25" stroke="#000" stroke-width="2"/>
<text x="23.35" y="393.20" font-size="11" font-weight="bold" text-anchor="end" >40</text>
<line x1="34.15" y1="343.95" x2="37.55" y2="343.95" stroke="#000" stroke-width="2"/>
<text x="23.35" y="347.90" font-size="11" font-weight="bold" text-anchor="end" >60</text>
<line x1="34.15" y1="298.65" x2="37.55" y2="298.65" stroke="#000" stroke-width="2"/>
<text x="23.35" y="302.60" font-size="11" font-weight="bold" text-anchor="end" >80</text>
<line x1="34.15" y1="479.85" x2="34.15" y2="476.45" stroke="#000" stroke-width="2"/>
<text x="34.15" y="497.40" font-size="11" font-weight="bold" text-anchor="middle" >0</text>
<line x1="91.30" y1="479.85" x2="91.30" y2="476.45" stroke="#000" stroke-width="2"/>
<text x="91.30" y="497.40" font-size="11" font-weight="bold" text-anchor="middle" >50</text>
<line x1="148.45" y1="479.85" x2="148.45" y2="476.45" stroke="#000" stroke-width="2"/>
<text x="148.45" y="497.40" font-size="11" font-weight="bold" text-anchor="middle" >100</text>
<line x1="205.60" y1="479.85" x2="205.60" y2="476.45" stroke="#000" stroke-width="2"/>
<text x="205.60" y="497.40" font-size="11" font-weight="bold" text-anchor="middle" >150</text>
<line x1="262.75" y1="479.85" x2="262.75" y2="476.45" stroke="#000" stroke-width="2"/>
<text x="262.75" y="497.40" font-size="11" font-weight="bold" text-anchor="middle" >200</text>
<path d="M34.15,479.85 L37.11,478.81 L40.07,477.74 L43.02,476.64 L45.98,475.52 L48.94,474.36 L51.90,473.18 L54.85,471.96 L57.81,470.72 L60.77,469.45 L63.73,468.15 L66.68,466.82 L69.64,465.47 L72.60,464.08 L75.56,462.67 L78.51,461.23 L81.47,459.75 L84.43,458.25 L87.39,456.73 L90.34,455.17 L93.30,453.58 L96.26,451.97 L99.22,450.32 L102.17,448.65 L105.13,446.95 L108.09,445.22 L111.05,443.46 L114.00,441.67 L116.96,439.86 L119.92,438.01 L122.88,436.14 L125.83,434.24 L128.79,432.31 L131.75,430.35 L134.71,428.36 L137.66,426.34 L140.62,424.29 L143.58,422.22 L146.54,420.12 L149.49,417.99 L152.45,415.82 L155.41,413.64 L158.37,411.42 L161.32,409.17 L164.28,406.89 L167.24,404.59 L170.20,402.26 L173.15,399.90 L176.11,397.50 L179.07,395.09 L182.03,392.64 L184.98,390.16 L187.94,387.66 L190.90,385.12 L193.86,382.56 L196.81,379.97 L199.77,377.35 L202.73,374.70 L205.69,372.02 L208.64,369.31 L211.60,366.58 L214.56,363.81 L217.52,361.02 L220.47,358.20 L223.43,355.35 L226.39,352.47 L229.35,349.56 L232.30,346.63 L235.26,343.66 L238.22,340.67 L241.18,337.65 L244.13,334.60 L247.09,331.52 L250.05,328.41 L253.01,325.27 L255.96,322.10 L258.92,318.91 L261.88,315.69 L264.84,312.43 L267.79,309.15 L270.75,305.84" fill="none" stroke="#000" stroke-width="2.4" stroke-dasharray="8.5 3.4" stroke-dashoffset="0.00" stroke-linecap="butt"/>
<path d="M34.15,479.85 L37.04,478.84 L39.94,477.82 L42.83,476.78 L45.72,475.74 L48.62,474.67 L51.51,473.60 L54.40,472.51 L57.30,471.41 L60.19,470.30 L63.08,469.17 L65.98,468.03 L68.87,466.88 L71.76,465.71 L74.66,464.53 L77.55,463.34 L80.44,462.13 L83.33,460.91 L86.23,459.68 L89.12,458.43 L92.01,457.18 L94.91,455.90 L97.80,454.62 L100.69,453.32 L103.59,452.01 L106.48,450.68 L109.37,449.35 L112.27,448.00 L115.16,446.63 L118.05,445.25 L120.95,443.86 L123.84,442.46 L126.73,441.04 L129.63,439.61 L132.52,438.17 L135.41,436.72 L138.31,435.25 L141.20,433.76 L144.09,432.27 L146.99,430.76 L149.88,429.24 L152.77,427.70 L155.67,426.15 L158.56,424.59 L161.45,423.02 L164.34,421.43 L167.24,419.83 L170.13,418.22 L173.02,416.59 L175.92,414.95 L178.81,413.29 L181.70,411.63 L184.60,409.95 L187.49,408.26 L190.38,406.55 L193.28,404.83 L196.17,403.10 L199.06,401.35 L201.96,399.59 L204.85,397.82 L207.74,396.04 L210.64,394.24 L213.53,392.43 L216.42,390.60 L219.32,388.77 L222.21,386.91 L225.10,385.05 L228.00,383.17 L230.89,381.28 L233.78,379.38 L236.68,377.46 L239.57,375.53 L242.46,373.59 L245.35,371.63 L248.25,369.67 L251.14,367.68 L254.03,365.69 L256.93,363.68 L259.82,361.66 L262.71,359.62 L265.61,357.57" fill="none" stroke="#000" stroke-width="2.4" stroke-dasharray="10 8.5 2.4 8.5" stroke-dashoffset="22.85" stroke-linecap="butt"/>
<path d="M34.15,479.85 L37.11,478.82 L40.07,477.78 L43.02,476.74 L45.98,475.69 L48.94,474.65 L51.90,473.59 L54.85,472.54 L57.81,471.48 L60.77,470.42 L63.73,469.35 L66.68,468.29 L69.64,467.21 L72.60,466.14 L75.56,465.06 L78.51,463.97 L81.47,462.89 L84.43,461.80 L87.39,460.71 L90.34,459.61 L93.30,458.51 L96.26,457.40 L99.22,456.30 L102.17,455.19 L105.13,454.07 L108.09,452.95 L111.05,451.83 L114.00,450.71 L116.96,449.58 L119.92,448.45 L122.88,447.31 L125.83,446.17 L128.79,445.03 L131.75,443.88 L134.71,442.73 L137.66,441.58 L140.62,440.43 L143.58,439.27 L146.54,438.10 L149.49,436.94 L152.45,435.76 L155.41,434.59 L158.37,433.41 L161.32,432.23 L164.28,431.05 L167.24,429.86 L170.20,428.67 L173.15,427.47 L176.11,426.28 L179.07,425.07 L182.03,423.87 L184.98,422.66 L187.94,421.45 L190.90,420.23 L193.86,419.01 L196.81,417.79 L199.77,416.56 L202.73,415.33 L205.69,414.10 L208.64,412.86 L211.60,411.62 L214.56,410.38 L217.52,409.13 L220.47,407.88 L223.43,406.62 L226.39,405.37 L229.35,404.10 L232.30,402.84 L235.26,401.57 L238.22,400.30 L241.18,399.02 L244.13,397.74 L247.09,396.46 L250.05,395.18 L253.01,393.89 L255.96,392.59 L258.92,391.30 L261.88,390.00 L264.84,388.69 L267.79,387.39 L270.75,386.08" fill="none" stroke="#000" stroke-width="2.75" stroke-dasharray="0.1 5.3" stroke-dashoffset="0.00" stroke-linecap="round"/>
<circle cx="144.20" cy="421.80" r="4.25" fill="#00b050" stroke="#000" stroke-width="1.3"/>
<circle cx="176.70" cy="394.90" r="4.25" fill="#00b050" stroke="#000" stroke-width="1.3"/>
<circle cx="207.00" cy="370.80" r="4.25" fill="#00b050" stroke="#000" stroke-width="1.3"/>
<circle cx="239.70" cy="338.40" r="4.25" fill="#00b050" stroke="#000" stroke-width="1.3"/>
<circle cx="270.90" cy="306.10" r="4.25" fill="#00b050" stroke="#000" stroke-width="1.3"/>
<rect x="46.10" y="469.00" width="8.6" height="8.6" fill="#00b0f0" stroke="#000" stroke-width="1.3"/>
<rect x="76.40" y="455.70" width="8.6" height="8.6" fill="#00b0f0" stroke="#000" stroke-width="1.3"/>
<rect x="108.90" y="439.90" width="8.6" height="8.6" fill="#00b0f0" stroke="#000" stroke-width="1.3"/>
<rect x="139.90" y="424.60" width="8.6" height="8.6" fill="#00b0f0" stroke="#000" stroke-width="1.3"/>
<rect x="172.40" y="405.90" width="8.6" height="8.6" fill="#00b0f0" stroke="#000" stroke-width="1.3"/>
<rect x="202.70" y="386.90" width="8.6" height="8.6" fill="#00b0f0" stroke="#000" stroke-width="1.3"/>
<rect x="235.60" y="367.10" width="8.6" height="8.6" fill="#00b0f0" stroke="#000" stroke-width="1.3"/>
<rect x="266.60" y="343.00" width="8.6" height="8.6" fill="#00b0f0" stroke="#000" stroke-width="1.3"/>
<path d="M62.30,467.00 L67.20,476.00 L57.40,476.00 Z" fill="#00b050" stroke="#000" stroke-width="1.25" stroke-linejoin="miter"/>
<path d="M85.50,460.00 L90.40,469.00 L80.60,469.00 Z" fill="#00b050" stroke="#000" stroke-width="1.25" stroke-linejoin="miter"/>
<path d="M112.70,448.50 L117.60,457.50 L107.80,457.50 Z" fill="#00b050" stroke="#000" stroke-width="1.25" stroke-linejoin="miter"/>
<path d="M144.20,437.00 L149.10,446.00 L139.30,446.00 Z" fill="#00b050" stroke="#000" stroke-width="1.25" stroke-linejoin="miter"/>
<path d="M176.70,421.00 L181.60,430.00 L171.80,430.00 Z" fill="#00b050" stroke="#000" stroke-width="1.25" stroke-linejoin="miter"/>
<path d="M207.00,410.00 L211.90,419.00 L202.10,419.00 Z" fill="#00b050" stroke="#000" stroke-width="1.25" stroke-linejoin="miter"/>
<path d="M239.90,397.50 L244.80,406.50 L235.00,406.50 Z" fill="#00b050" stroke="#000" stroke-width="1.25" stroke-linejoin="miter"/>
<path d="M270.20,381.00 L275.10,390.00 L265.30,390.00 Z" fill="#00b050" stroke="#000" stroke-width="1.25" stroke-linejoin="miter"/>
<path d="M62.30,468.35 L66.45,472.50 L62.30,476.65 L58.15,472.50 Z" fill="#00b0f0" stroke="#000" stroke-width="1.25"/>
<path d="M85.50,461.25 L89.65,465.40 L85.50,469.55 L81.35,465.40 Z" fill="#00b0f0" stroke="#000" stroke-width="1.25"/>
<path d="M112.70,449.85 L116.85,454.00 L112.70,458.15 L108.55,454.00 Z" fill="#00b0f0" stroke="#000" stroke-width="1.25"/>
<path d="M144.20,438.95 L148.35,443.10 L144.20,447.25 L140.05,443.10 Z" fill="#00b0f0" stroke="#000" stroke-width="1.25"/>
<path d="M176.70,425.35 L180.85,429.50 L176.70,433.65 L172.55,429.50 Z" fill="#00b0f0" stroke="#000" stroke-width="1.25"/>
<path d="M207.00,408.85 L211.15,413.00 L207.00,417.15 L202.85,413.00 Z" fill="#00b0f0" stroke="#000" stroke-width="1.25"/>
<path d="M239.90,397.05 L244.05,401.20 L239.90,405.35 L235.75,401.20 Z" fill="#00b0f0" stroke="#000" stroke-width="1.25"/>
<path d="M270.20,382.25 L274.35,386.40 L270.20,390.55 L266.05,386.40 Z" fill="#00b0f0" stroke="#000" stroke-width="1.25"/>
<text x="160" y="512.3" font-size="11.5" font-weight="bold" text-anchor="middle">Δp (kPa)</text>
<text transform="translate(12.1,372.8) rotate(-90)" x="0" y="0" font-size="11" font-weight="bold" text-anchor="middle"><tspan font-style="italic">Q</tspan> (μl/min)</text>
<text x="-0.10" y="270.20" font-size="13.8" font-weight="bold" text-anchor="start" >(c)</text>
<rect x="65.8" y="276.4" width="112.8" height="88.60000000000002" fill="#fff"/>
<path d="M65.80,343.60 L66.39,343.10 L67.09,342.45 L67.91,341.67 L68.88,340.80 L70.00,339.86 L71.30,338.88 L72.79,337.88 L74.50,336.90 L76.54,335.88 L78.94,334.78 L81.60,333.62 L84.40,332.44 L87.24,331.27 L90.01,330.14 L92.60,329.07 L94.90,328.10 L96.90,327.24 L98.71,326.48 L100.38,325.79 L101.95,325.13 L103.49,324.48 L105.04,323.81 L106.66,323.10 L108.40,322.30 L110.24,321.42 L112.11,320.46 L114.02,319.47 L115.96,318.45 L117.93,317.43 L119.92,316.44 L121.95,315.48 L124.00,314.60 L126.13,313.76 L128.36,312.95 L130.65,312.16 L132.95,311.40 L135.22,310.68 L137.42,310.00 L139.49,309.37 L141.40,308.80 L143.10,308.29 L144.62,307.85 L146.00,307.46 L147.32,307.11 L148.62,306.79 L149.96,306.49 L151.40,306.20 L153.00,305.90 L154.79,305.60 L156.74,305.32 L158.78,305.05 L160.87,304.80 L162.94,304.56 L164.94,304.33 L166.81,304.11 L168.50,303.90 L170.06,303.70 L171.56,303.50 L172.99,303.30 L174.32,303.12 L175.53,302.96 L176.59,302.82 L177.49,302.70 L178.20,302.60" fill="none" stroke="#000" stroke-width="1.85" stroke-dasharray="5.6 2.8"/>
<path d="M73.20,326.60 L73.20,343.30 M70.20,326.60 L76.20,326.60 M70.20,343.30 L76.20,343.30" stroke="#000" stroke-width="1.5" fill="none"/>
<circle cx="73.20" cy="334.90" r="3.35" fill="#d40000" stroke="#000" stroke-width="1.25"/>
<path d="M87.10,330.50 L87.10,344.60 M84.10,330.50 L90.10,330.50 M84.10,344.60 L90.10,344.60" stroke="#000" stroke-width="1.5" fill="none"/>
<circle cx="87.10" cy="337.40" r="3.35" fill="#d40000" stroke="#000" stroke-width="1.25"/>
<path d="M101.10,326.20 L101.10,343.60 M98.10,326.20 L104.10,326.20 M98.10,343.60 L104.10,343.60" stroke="#000" stroke-width="1.5" fill="none"/>
<circle cx="101.10" cy="334.90" r="3.35" fill="#d40000" stroke="#000" stroke-width="1.25"/>
<path d="M115.20,312.60 L115.20,331.00 M112.20,312.60 L118.20,312.60 M112.20,331.00 L118.20,331.00" stroke="#000" stroke-width="1.5" fill="none"/>
<circle cx="115.20" cy="321.40" r="3.35" fill="#d40000" stroke="#000" stroke-width="1.25"/>
<path d="M129.80,305.50 L129.80,311.00 M126.80,305.50 L132.80,305.50 M126.80,311.00 L132.80,311.00" stroke="#000" stroke-width="1.5" fill="none"/>
<circle cx="129.80" cy="309.70" r="3.35" fill="#d40000" stroke="#000" stroke-width="1.25"/>
<path d="M143.70,304.50 L143.70,316.50 M140.70,304.50 L146.70,304.50 M140.70,316.50 L146.70,316.50" stroke="#000" stroke-width="1.5" fill="none"/>
<circle cx="143.70" cy="310.70" r="3.35" fill="#d40000" stroke="#000" stroke-width="1.25"/>
<circle cx="158.40" cy="303.00" r="3.35" fill="#d40000" stroke="#000" stroke-width="1.25"/>
<circle cx="172.40" cy="304.50" r="3.35" fill="#d40000" stroke="#000" stroke-width="1.25"/>
<rect x="65.8" y="276.4" width="112.8" height="88.60000000000002" fill="none" stroke="#000" stroke-width="1.9"/>
<line x1="65.8" y1="365.30" x2="68.20" y2="365.30" stroke="#000" stroke-width="1.6"/>
<text x="57.60" y="368.95" font-size="10.2" font-weight="bold" text-anchor="end" >0.8</text>
<line x1="65.8" y1="343.20" x2="68.20" y2="343.20" stroke="#000" stroke-width="1.6"/>
<text x="57.60" y="346.85" font-size="10.2" font-weight="bold" text-anchor="end" >1</text>
<line x1="65.8" y1="321.10" x2="68.20" y2="321.10" stroke="#000" stroke-width="1.6"/>
<text x="57.60" y="324.75" font-size="10.2" font-weight="bold" text-anchor="end" >1.2</text>
<line x1="65.8" y1="299.00" x2="68.20" y2="299.00" stroke="#000" stroke-width="1.6"/>
<text x="57.60" y="302.65" font-size="10.2" font-weight="bold" text-anchor="end" >1.4</text>
<line x1="65.8" y1="276.90" x2="68.20" y2="276.90" stroke="#000" stroke-width="1.6"/>
<text x="57.60" y="280.55" font-size="10.2" font-weight="bold" text-anchor="end" >1.6</text>
<line x1="65.90" y1="365" x2="65.90" y2="362.60" stroke="#000" stroke-width="1.6"/>
<text x="65.90" y="382.20" font-size="10.2" font-weight="bold" text-anchor="middle" >0</text>
<line x1="117.20" y1="365" x2="117.20" y2="362.60" stroke="#000" stroke-width="1.6"/>
<text x="117.20" y="382.20" font-size="10.2" font-weight="bold" text-anchor="middle" >100</text>
<line x1="168.50" y1="365" x2="168.50" y2="362.60" stroke="#000" stroke-width="1.6"/>
<text x="168.50" y="382.20" font-size="10.2" font-weight="bold" text-anchor="middle" >200</text>
<text x="121.1" y="394.6" font-size="10" font-weight="bold" text-anchor="middle">Δp (kPa)</text>
<circle cx="97.20" cy="283.20" r="2.75" fill="#d40000" stroke="#000" stroke-width="1.2"/>
<text x="119.10" y="286.80" font-size="10" font-weight="bold" text-anchor="start" >Experiment</text>
<line x1="78.4" y1="295.2" x2="116.2" y2="295.2" stroke="#000" stroke-width="1.85" stroke-dasharray="5.6 2.8"/>
<text x="119.10" y="298.80" font-size="10" font-weight="bold" text-anchor="start" >Model</text>
<rect x="477.8" y="271.8" width="73.49999999999994" height="17.30000000000001" fill="#ffe495"/>
<text x="485.3" y="284.2" font-size="10.7" font-weight="bold"><tspan font-style="italic">H</tspan><tspan font-size="7.8" dy="2.3">0</tspan><tspan dy="-2.3"> = 10.9 μm</tspan></text>
<rect x="320.75" y="265.05" width="239.10000000000002" height="215.3" fill="none" stroke="#000" stroke-width="2.4"/>
<line x1="320.75" y1="480.35" x2="324.15" y2="480.35" stroke="#000" stroke-width="2"/>
<text x="309.95" y="484.30" font-size="11" font-weight="bold" text-anchor="end" >0</text>
<line x1="320.75" y1="441.09" x2="324.15" y2="441.09" stroke="#000" stroke-width="2"/>
<text x="309.95" y="445.04" font-size="11" font-weight="bold" text-anchor="end" >40</text>
<line x1="320.75" y1="401.83" x2="324.15" y2="401.83" stroke="#000" stroke-width="2"/>
<text x="309.95" y="405.78" font-size="11" font-weight="bold" text-anchor="end" >80</text>
<line x1="320.75" y1="362.57" x2="324.15" y2="362.57" stroke="#000" stroke-width="2"/>
<text x="309.95" y="366.52" font-size="11" font-weight="bold" text-anchor="end" >120</text>
<line x1="320.75" y1="323.31" x2="324.15" y2="323.31" stroke="#000" stroke-width="2"/>
<text x="309.95" y="327.26" font-size="11" font-weight="bold" text-anchor="end" >160</text>
<line x1="320.75" y1="284.05" x2="324.15" y2="284.05" stroke="#000" stroke-width="2"/>
<text x="309.95" y="288.00" font-size="11" font-weight="bold" text-anchor="end" >200</text>
<line x1="320.75" y1="480.35" x2="320.75" y2="476.95" stroke="#000" stroke-width="2"/>
<text x="320.75" y="498.10" font-size="11" font-weight="bold" text-anchor="middle" >0</text>
<line x1="377.70" y1="480.35" x2="377.70" y2="476.95" stroke="#000" stroke-width="2"/>
<text x="377.70" y="498.10" font-size="11" font-weight="bold" text-anchor="middle" >50</text>
<line x1="434.65" y1="480.35" x2="434.65" y2="476.95" stroke="#000" stroke-width="2"/>
<text x="434.65" y="498.10" font-size="11" font-weight="bold" text-anchor="middle" >100</text>
<line x1="491.60" y1="480.35" x2="491.60" y2="476.95" stroke="#000" stroke-width="2"/>
<text x="491.60" y="498.10" font-size="11" font-weight="bold" text-anchor="middle" >150</text>
<line x1="548.55" y1="480.35" x2="548.55" y2="476.95" stroke="#000" stroke-width="2"/>
<text x="548.55" y="498.10" font-size="11" font-weight="bold" text-anchor="middle" >200</text>
<path d="M320.75,480.35 L323.70,479.15 L326.64,477.92 L329.59,476.68 L332.54,475.42 L335.49,474.14 L338.43,472.84 L341.38,471.52 L344.33,470.18 L347.27,468.83 L350.22,467.45 L353.17,466.06 L356.12,464.64 L359.06,463.21 L362.01,461.76 L364.96,460.29 L367.90,458.80 L370.85,457.30 L373.80,455.77 L376.75,454.22 L379.69,452.66 L382.64,451.08 L385.59,449.47 L388.53,447.85 L391.48,446.21 L394.43,444.55 L397.38,442.88 L400.32,441.18 L403.27,439.47 L406.22,437.73 L409.16,435.98 L412.11,434.21 L415.06,432.41 L418.01,430.60 L420.95,428.78 L423.90,426.93 L426.85,425.06 L429.80,423.17 L432.74,421.27 L435.69,419.35 L438.64,417.40 L441.58,415.44 L444.53,413.46 L447.48,411.46 L450.43,409.45 L453.37,407.41 L456.32,405.35 L459.27,403.28 L462.21,401.18 L465.16,399.07 L468.11,396.94 L471.06,394.79 L474.00,392.62 L476.95,390.43 L479.90,388.22 L482.84,386.00 L485.79,383.75 L488.74,381.49 L491.69,379.21 L494.63,376.90 L497.58,374.58 L500.53,372.24 L503.47,369.89 L506.42,367.51 L509.37,365.11 L512.32,362.70 L515.26,360.26 L518.21,357.81 L521.16,355.34 L524.10,352.85 L527.05,350.34 L530.00,347.81 L532.95,345.26 L535.89,342.69 L538.84,340.11 L541.79,337.50 L544.73,334.88 L547.68,332.24 L550.63,329.58 L553.58,326.90 L556.52,324.20" fill="none" stroke="#000" stroke-width="2.4" stroke-dasharray="8.5 3.4" stroke-dashoffset="0.00" stroke-linecap="butt"/>
<path d="M320.75,480.35 L323.63,479.19 L326.52,478.02 L329.40,476.84 L332.28,475.65 L335.17,474.46 L338.05,473.25 L340.93,472.04 L343.81,470.82 L346.70,469.59 L349.58,468.35 L352.46,467.10 L355.35,465.85 L358.23,464.58 L361.11,463.31 L364.00,462.03 L366.88,460.74 L369.76,459.44 L372.65,458.13 L375.53,456.81 L378.41,455.49 L381.29,454.15 L384.18,452.81 L387.06,451.46 L389.94,450.10 L392.83,448.73 L395.71,447.35 L398.59,445.97 L401.48,444.57 L404.36,443.17 L407.24,441.76 L410.13,440.34 L413.01,438.91 L415.89,437.47 L418.78,436.03 L421.66,434.57 L424.54,433.11 L427.42,431.64 L430.31,430.16 L433.19,428.67 L436.07,427.17 L438.96,425.66 L441.84,424.15 L444.72,422.62 L447.61,421.09 L450.49,419.55 L453.37,418.00 L456.26,416.44 L459.14,414.87 L462.02,413.30 L464.90,411.71 L467.79,410.12 L470.67,408.52 L473.55,406.91 L476.44,405.29 L479.32,403.66 L482.20,402.02 L485.09,400.38 L487.97,398.73 L490.85,397.06 L493.74,395.39 L496.62,393.71 L499.50,392.02 L502.38,390.33 L505.27,388.62 L508.15,386.91 L511.03,385.19 L513.92,383.45 L516.80,381.71 L519.68,379.97 L522.57,378.21 L525.45,376.44 L528.33,374.67 L531.22,372.88 L534.10,371.09 L536.98,369.29 L539.87,367.48 L542.75,365.67 L545.63,363.84 L548.51,362.00 L551.40,360.16" fill="none" stroke="#000" stroke-width="2.4" stroke-dasharray="10 8.5 2.4 8.5" stroke-dashoffset="25.03" stroke-linecap="butt"/>
<path d="M320.75,480.35 L323.70,479.19 L326.64,478.04 L329.59,476.89 L332.54,475.74 L335.49,474.59 L338.43,473.44 L341.38,472.29 L344.33,471.14 L347.27,469.99 L350.22,468.85 L353.17,467.70 L356.12,466.56 L359.06,465.42 L362.01,464.28 L364.96,463.14 L367.90,462.00 L370.85,460.86 L373.80,459.72 L376.75,458.58 L379.69,457.45 L382.64,456.32 L385.59,455.18 L388.53,454.05 L391.48,452.92 L394.43,451.79 L397.38,450.66 L400.32,449.53 L403.27,448.41 L406.22,447.28 L409.16,446.16 L412.11,445.03 L415.06,443.91 L418.01,442.79 L420.95,441.67 L423.90,440.55 L426.85,439.43 L429.80,438.31 L432.74,437.20 L435.69,436.08 L438.64,434.97 L441.58,433.86 L444.53,432.74 L447.48,431.63 L450.43,430.52 L453.37,429.42 L456.32,428.31 L459.27,427.20 L462.21,426.10 L465.16,424.99 L468.11,423.89 L471.06,422.79 L474.00,421.68 L476.95,420.58 L479.90,419.48 L482.84,418.39 L485.79,417.29 L488.74,416.19 L491.69,415.10 L494.63,414.00 L497.58,412.91 L500.53,411.82 L503.47,410.73 L506.42,409.64 L509.37,408.55 L512.32,407.46 L515.26,406.37 L518.21,405.29 L521.16,404.20 L524.10,403.12 L527.05,402.04 L530.00,400.96 L532.95,399.88 L535.89,398.80 L538.84,397.72 L541.79,396.64 L544.73,395.57 L547.68,394.49 L550.63,393.42 L553.58,392.34 L556.52,391.27" fill="none" stroke="#000" stroke-width="2.75" stroke-dasharray="0.1 5.3" stroke-dashoffset="0.00" stroke-linecap="round"/>
<circle cx="430.40" cy="426.10" r="4.25" fill="#00b050" stroke="#000" stroke-width="1.3"/>
<circle cx="462.40" cy="405.40" r="4.25" fill="#00b050" stroke="#000" stroke-width="1.3"/>
<circle cx="493.50" cy="379.90" r="4.25" fill="#00b050" stroke="#000" stroke-width="1.3"/>
<circle cx="525.50" cy="352.30" r="4.25" fill="#00b050" stroke="#000" stroke-width="1.3"/>
<circle cx="556.40" cy="324.30" r="4.25" fill="#00b050" stroke="#000" stroke-width="1.3"/>
<rect x="340.30" y="473.30" width="8.6" height="8.6" fill="#00b0f0" stroke="#000" stroke-width="1.3"/>
<rect x="364.10" y="457.70" width="8.6" height="8.6" fill="#00b0f0" stroke="#000" stroke-width="1.3"/>
<rect x="395.20" y="442.70" width="8.6" height="8.6" fill="#00b0f0" stroke="#000" stroke-width="1.3"/>
<rect x="426.10" y="427.40" width="8.6" height="8.6" fill="#00b0f0" stroke="#000" stroke-width="1.3"/>
<rect x="458.10" y="408.70" width="8.6" height="8.6" fill="#00b0f0" stroke="#000" stroke-width="1.3"/>
<rect x="489.20" y="390.60" width="8.6" height="8.6" fill="#00b0f0" stroke="#000" stroke-width="1.3"/>
<rect x="521.20" y="368.40" width="8.6" height="8.6" fill="#00b0f0" stroke="#000" stroke-width="1.3"/>
<rect x="552.10" y="346.10" width="8.6" height="8.6" fill="#00b0f0" stroke="#000" stroke-width="1.3"/>
<path d="M344.60,470.00 L349.50,479.00 L339.70,479.00 Z" fill="#00b050" stroke="#000" stroke-width="1.25" stroke-linejoin="miter"/>
<path d="M368.40,459.00 L373.30,468.00 L363.50,468.00 Z" fill="#00b050" stroke="#000" stroke-width="1.25" stroke-linejoin="miter"/>
<path d="M399.50,448.00 L404.40,457.00 L394.60,457.00 Z" fill="#00b050" stroke="#000" stroke-width="1.25" stroke-linejoin="miter"/>
<path d="M430.40,438.00 L435.30,447.00 L425.50,447.00 Z" fill="#00b050" stroke="#000" stroke-width="1.25" stroke-linejoin="miter"/>
<path d="M462.40,423.00 L467.30,432.00 L457.50,432.00 Z" fill="#00b050" stroke="#000" stroke-width="1.25" stroke-linejoin="miter"/>
<path d="M493.50,410.50 L498.40,419.50 L488.60,419.50 Z" fill="#00b050" stroke="#000" stroke-width="1.25" stroke-linejoin="miter"/>
<path d="M525.50,398.00 L530.40,407.00 L520.60,407.00 Z" fill="#00b050" stroke="#000" stroke-width="1.25" stroke-linejoin="miter"/>
<path d="M557.00,385.00 L561.90,394.00 L552.10,394.00 Z" fill="#00b050" stroke="#000" stroke-width="1.25" stroke-linejoin="miter"/>
<path d="M344.60,469.25 L348.75,473.40 L344.60,477.55 L340.45,473.40 Z" fill="#00b0f0" stroke="#000" stroke-width="1.25"/>
<path d="M368.40,460.75 L372.55,464.90 L368.40,469.05 L364.25,464.90 Z" fill="#00b0f0" stroke="#000" stroke-width="1.25"/>
<path d="M399.50,449.35 L403.65,453.50 L399.50,457.65 L395.35,453.50 Z" fill="#00b0f0" stroke="#000" stroke-width="1.25"/>
<path d="M430.40,439.45 L434.55,443.60 L430.40,447.75 L426.25,443.60 Z" fill="#00b0f0" stroke="#000" stroke-width="1.25"/>
<path d="M462.40,424.75 L466.55,428.90 L462.40,433.05 L458.25,428.90 Z" fill="#00b0f0" stroke="#000" stroke-width="1.25"/>
<path d="M493.50,411.75 L497.65,415.90 L493.50,420.05 L489.35,415.90 Z" fill="#00b0f0" stroke="#000" stroke-width="1.25"/>
<path d="M525.50,399.25 L529.65,403.40 L525.50,407.55 L521.35,403.40 Z" fill="#00b0f0" stroke="#000" stroke-width="1.25"/>
<path d="M554.40,387.05 L558.55,391.20 L554.40,395.35 L550.25,391.20 Z" fill="#00b0f0" stroke="#000" stroke-width="1.25"/>
<text x="441.6" y="513.1" font-size="11.5" font-weight="bold" text-anchor="middle">Δp (kPa)</text>
<text transform="translate(292.8,375.8) rotate(-90)" x="0" y="0" font-size="11" font-weight="bold" text-anchor="middle"><tspan font-style="italic">Q</tspan> (μl/min)</text>
<text x="288.00" y="271.00" font-size="13.8" font-weight="bold" text-anchor="start" >(d)</text>
<rect x="353.9" y="275.4" width="116.30000000000001" height="91.5" fill="#fff"/>
<path d="M353.90,345.20 L355.82,344.33 L358.34,343.15 L361.34,341.75 L364.69,340.21 L368.26,338.58 L371.94,336.96 L375.60,335.40 L379.10,334.00 L382.54,332.71 L386.08,331.46 L389.69,330.24 L393.36,329.03 L397.05,327.84 L400.75,326.66 L404.44,325.48 L408.10,324.30 L411.71,323.10 L415.30,321.87 L418.88,320.65 L422.46,319.43 L426.07,318.24 L429.72,317.10 L433.42,316.01 L437.20,315.00 L441.28,314.03 L445.75,313.09 L450.39,312.18 L455.02,311.32 L459.42,310.53 L463.38,309.84 L466.71,309.26 L469.20,308.80" fill="none" stroke="#000" stroke-width="1.85" stroke-dasharray="5.6 2.8"/>
<path d="M375.80,327.80 L375.80,359.50 M372.80,327.80 L378.80,327.80 M372.80,359.50 L378.80,359.50" stroke="#000" stroke-width="1.5" fill="none"/>
<circle cx="375.80" cy="343.60" r="3.35" fill="#d40000" stroke="#000" stroke-width="1.25"/>
<path d="M390.10,337.80 L390.10,346.00 M387.10,337.80 L393.10,337.80 M387.10,346.00 L393.10,346.00" stroke="#000" stroke-width="1.5" fill="none"/>
<circle cx="390.10" cy="342.70" r="3.35" fill="#d40000" stroke="#000" stroke-width="1.25"/>
<circle cx="404.80" cy="332.00" r="3.35" fill="#d40000" stroke="#000" stroke-width="1.25"/>
<circle cx="419.20" cy="332.40" r="3.35" fill="#d40000" stroke="#000" stroke-width="1.25"/>
<circle cx="434.30" cy="323.70" r="3.35" fill="#d40000" stroke="#000" stroke-width="1.25"/>
<circle cx="448.80" cy="324.70" r="3.35" fill="#d40000" stroke="#000" stroke-width="1.25"/>
<path d="M464.00,316.10 L464.00,327.80 M461.00,316.10 L467.00,316.10 M461.00,327.80 L467.00,327.80" stroke="#000" stroke-width="1.5" fill="none"/>
<circle cx="464.00" cy="321.40" r="3.35" fill="#d40000" stroke="#000" stroke-width="1.25"/>
<rect x="353.9" y="275.4" width="116.30000000000001" height="91.5" fill="none" stroke="#000" stroke-width="1.9"/>
<line x1="353.9" y1="367.20" x2="356.30" y2="367.20" stroke="#000" stroke-width="1.6"/>
<text x="345.70" y="370.85" font-size="10.2" font-weight="bold" text-anchor="end" >0.8</text>
<line x1="353.9" y1="344.50" x2="356.30" y2="344.50" stroke="#000" stroke-width="1.6"/>
<text x="345.70" y="348.15" font-size="10.2" font-weight="bold" text-anchor="end" >1</text>
<line x1="353.9" y1="321.80" x2="356.30" y2="321.80" stroke="#000" stroke-width="1.6"/>
<text x="345.70" y="325.45" font-size="10.2" font-weight="bold" text-anchor="end" >1.2</text>
<line x1="353.9" y1="299.10" x2="356.30" y2="299.10" stroke="#000" stroke-width="1.6"/>
<text x="345.70" y="302.75" font-size="10.2" font-weight="bold" text-anchor="end" >1.4</text>
<line x1="353.9" y1="276.40" x2="356.30" y2="276.40" stroke="#000" stroke-width="1.6"/>
<text x="345.70" y="280.05" font-size="10.2" font-weight="bold" text-anchor="end" >1.6</text>
<line x1="353.50" y1="366.9" x2="353.50" y2="364.50" stroke="#000" stroke-width="1.6"/>
<text x="353.50" y="384.00" font-size="10.2" font-weight="bold" text-anchor="middle" >0</text>
<line x1="406.80" y1="366.9" x2="406.80" y2="364.50" stroke="#000" stroke-width="1.6"/>
<text x="406.80" y="384.00" font-size="10.2" font-weight="bold" text-anchor="middle" >100</text>
<line x1="460.10" y1="366.9" x2="460.10" y2="364.50" stroke="#000" stroke-width="1.6"/>
<text x="460.10" y="384.00" font-size="10.2" font-weight="bold" text-anchor="middle" >200</text>
<text x="417.4" y="395.6" font-size="10" font-weight="bold" text-anchor="middle">Δp (kPa)</text>
<circle cx="383.90" cy="284.00" r="2.75" fill="#d40000" stroke="#000" stroke-width="1.2"/>
<text x="406.60" y="287.60" font-size="10" font-weight="bold" text-anchor="start" >Experiment</text>
<line x1="365.5" y1="297.1" x2="403.3" y2="297.1" stroke="#000" stroke-width="1.85" stroke-dasharray="5.6 2.8"/>
<text x="406.60" y="300.70" font-size="10" font-weight="bold" text-anchor="start" >Model</text>
<path d="M588.6,10.9 L650.6,19.2 L650.6,47.0 L588.6,55.6 Z" fill="#00b050" stroke="#000" stroke-width="1.8"/>
<text x="618.90" y="37.50" font-size="11.2" font-weight="bold" text-anchor="middle" >Nozzle</text>
<line x1="574" y1="32.5" x2="583.0" y2="32.5" stroke="#000" stroke-width="1.9"/>
<path d="M587.6,32.5 L582.0,29.1 L582.0,35.9 Z" fill="#000"/>
<line x1="651.5" y1="33.6" x2="657.8" y2="33.6" stroke="#000" stroke-width="1.9"/>
<path d="M663.8,33.6 L656.8,29.8 L656.8,37.4 Z" fill="#000"/>
<path d="M588.6,79.6 L650.4,71.6 L650.4,114.2 L588.6,106.2 Z" fill="#00b0f0" stroke="#000" stroke-width="1.8"/>
<text x="621.30" y="96.00" font-size="11" font-weight="bold" text-anchor="middle" >Diffuser</text>
<line x1="574" y1="92.2" x2="583.0" y2="92.2" stroke="#000" stroke-width="1.9"/>
<path d="M587.6,92.2 L582.0,88.8 L582.0,95.60000000000001 Z" fill="#000"/>
<line x1="651.3" y1="92.7" x2="657.8" y2="92.7" stroke="#000" stroke-width="1.9"/>
<path d="M663.8,92.7 L656.8,88.9 L656.8,96.5 Z" fill="#000"/>
<path d="M586,138.2 L574,138.2 L574,302.2 L667.2,302.2 L667.2,138.2 L653.3,138.2" fill="none" stroke="#000" stroke-width="2"/>
<text x="620.50" y="140.90" font-size="11" font-weight="bold" text-anchor="middle" >Theoretical</text>
<line x1="585.2" y1="157.2" x2="657.8" y2="157.2" stroke="#000" stroke-width="3.2" stroke-dasharray="11 3"/>
<text x="620.80" y="172.40" font-size="11" font-weight="bold" text-anchor="middle" >Nozzle</text>
<text x="620.80" y="184.80" font-size="11" font-weight="bold" text-anchor="middle" >(Deformable)</text>
<line x1="584.3" y1="206.8" x2="650" y2="206.8" stroke="#000" stroke-width="3.2" stroke-dasharray="13.5 10.6 3 10.6"/>
<text x="620.20" y="223.90" font-size="11" font-weight="bold" text-anchor="middle" >Diffuser</text>
<text x="620.20" y="236.30" font-size="11" font-weight="bold" text-anchor="middle" >(Deformable)</text>
<line x1="583.3" y1="255" x2="655.8" y2="255" stroke="#000" stroke-width="3" stroke-dasharray="3 3.3"/>
<text x="620.30" y="273.40" font-size="11" font-weight="bold" text-anchor="middle" >Nozzle/Diffuser</text>
<text x="620.30" y="285.60" font-size="11" font-weight="bold" text-anchor="middle" >(Rigid)</text>
<path d="M581.5,319.8 L574,319.8 L574,487.5 L667.2,487.5 L667.2,319.8 L658,319.8" fill="none" stroke="#000" stroke-width="2"/>
<text x="619.70" y="321.60" font-size="11" font-weight="bold" text-anchor="middle" >Experimental</text>
<circle cx="587.90" cy="344.60" r="4.7" fill="#00b050" stroke="#000" stroke-width="1.3"/>
<text x="630.90" y="342.40" font-size="11" font-weight="bold" text-anchor="middle" >Nozzle</text>
<text x="630.40" y="354.60" font-size="11" font-weight="bold" text-anchor="middle" >(Deformable)</text>
<rect x="582.50" y="379.60" width="9.4" height="9.4" fill="#00b0f0" stroke="#000" stroke-width="1.3"/>
<text x="630.90" y="381.80" font-size="11" font-weight="bold" text-anchor="middle" >Diffuser</text>
<text x="630.40" y="393.90" font-size="11" font-weight="bold" text-anchor="middle" >(Deformable)</text>
<path d="M588.30,416.60 L593.50,427.20 L583.10,427.20 Z" fill="#00b050" stroke="#000" stroke-width="1.25" stroke-linejoin="miter"/>
<text x="630.00" y="419.90" font-size="11" font-weight="bold" text-anchor="middle" >Nozzle</text>
<text x="630.00" y="433.20" font-size="11" font-weight="bold" text-anchor="middle" >(Rigid)</text>
<path d="M588.30,456.00 L592.70,460.60 L588.30,465.20 L583.90,460.60 Z" fill="#00b0f0" stroke="#000" stroke-width="1.25"/>
<text x="630.00" y="458.20" font-size="11" font-weight="bold" text-anchor="middle" >Diffuser</text>
<text x="630.00" y="470.30" font-size="11" font-weight="bold" text-anchor="middle" >(Rigid)</text>
</svg>
</body></html>
